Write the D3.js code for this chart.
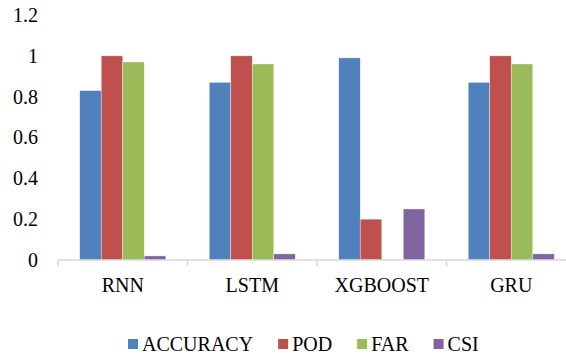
<!DOCTYPE html>
<html>
<head>
<meta charset="utf-8">
<script src="https://cdn.jsdelivr.net/npm/d3@7"></script>
<style>
  body { margin: 0; background: #fff; }
</style>
</head>
<body>
<div id="chart"></div>
<script>
const width = 566,
    height = 356,
    margin = ({ top: 15, right: -10, bottom: 96, left: 58 });
const serif = "'Liberation Serif', 'Times New Roman', Tinos, 'DejaVu Serif', serif";

// data
const models = ["RNN", "LSTM", "XGBOOST", "GRU"];
const series = ["ACCURACY", "POD", "FAR", "CSI"];
const accuracy = [0.83, 0.87, 0.99, 0.87];
const pod = [1.0, 1.0, 0.2, 1.0];
const far = [0.97, 0.96, 0, 0.96];
const csi = [0.02, 0.03, 0.25, 0.03];
const yTicks = [0, 0.2, 0.4, 0.6, 0.8, 1, 1.2];
const colors = ["#4F81BD", "#C0504D", "#9BBB59", "#8064A2"];

const values = [accuracy, pod, far, csi];
const rows = [];
models.forEach((m, i) => {
    series.forEach((s, j) => rows.push({ model: m, key: s, value: values[j][i] }));
});

const svg = d3.select("#chart")
    .append("svg")
    .attr("width", width)
    .attr("height", height)
    .attr("font-family", serif);

const x0 = d3.scaleBand()
    .domain(models)
    .range([margin.left, width - margin.right]);

const x1 = d3.scaleBand()
    .domain(series)
    .range([0, x0.bandwidth()])
    .paddingOuter(1.01);

const y = d3.scaleLinear()
    .domain([0, 1.2])
    .range([height - margin.bottom, margin.top]);

const color = d3.scaleOrdinal().domain(series).range(colors);

// y axis labels only
svg.append("g")
    .attr("transform", `translate(${margin.left},0)`)
    .call(d3.axisLeft(y).tickValues(yTicks).tickSize(0).tickPadding(20)
        .tickFormat(d => String(+d.toFixed(1))))
    .attr("font-family", serif)
    .attr("font-size", 20)
    .call(g => g.select(".domain").remove())
    .selectAll("text")
    .attr("fill", "#000");

// bars
svg.append("g")
    .selectAll("rect")
    .data(rows)
    .join("rect")
    .attr("x", d => x0(d.model) + x1(d.key))
    .attr("y", d => y(d.value))
    .attr("width", x1.bandwidth())
    .attr("height", d => y(0) - y(d.value))
    .attr("fill", d => color(d.key))
    .attr("stroke", "#fff")
    .attr("stroke-opacity", 0.6)
    .attr("stroke-width", 0.6);

// x axis line and boundary ticks
const xAxis = svg.append("g").attr("transform", `translate(0,${y(0)})`);
xAxis.append("line")
    .attr("x1", x0.range()[0]).attr("x2", x0.range()[1])
    .attr("stroke", "#D9D9D9").attr("stroke-width", 1.5);
xAxis.selectAll("line.tick")
    .data(models.map(m => x0(m)).concat([x0.range()[1]]))
    .join("line")
    .attr("class", "tick")
    .attr("x1", d => d).attr("x2", d => d)
    .attr("y1", 0).attr("y2", 6)
    .attr("stroke", "#D9D9D9").attr("stroke-width", 1.5);
xAxis.selectAll("text")
    .data(models)
    .join("text")
    .attr("x", d => x0(d) + x0.bandwidth() / 2)
    .attr("y", 32)
    .attr("text-anchor", "middle")
    .attr("font-size", 20)
    .text(d => d);

// legend
const legend = svg.append("g").attr("transform", "translate(128,344)");
let lx = 0;
series.forEach((s, i) => {
    const item = legend.append("g").attr("transform", `translate(${lx},0)`);
    item.append("rect")
        .attr("x", 0).attr("y", -5)
        .attr("width", 10).attr("height", 10)
        .attr("fill", colors[i]);
    const t = item.append("text")
        .attr("x", 14)
        .attr("y", 7)
        .attr("font-size", 20)
        .text(s);
    lx += 14 + t.node().getComputedTextLength() + 25;
});
</script>
</body>
</html>
